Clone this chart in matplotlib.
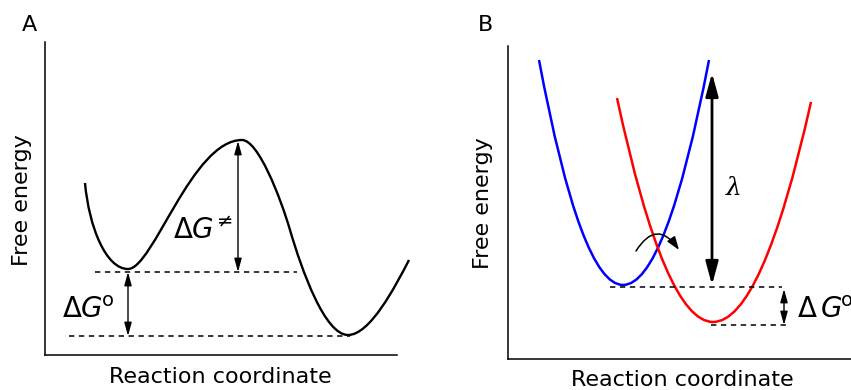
import numpy as np
import matplotlib.pyplot as plt
from matplotlib.path import Path
from matplotlib.patches import PathPatch

# --- panel A: double well (pixel units, y down)
# knots of the curve: start, first minimum, barrier top, inflection, second minimum, end
knots_a = [(85, 183), (128, 269), (242, 140), (290, 230), (348, 335), (409, 260)]
# two bezier handles for each piece between knots
handles_a = [[(89, 227), (106, 269)],
             [(153, 269), (192, 140)],
             [(258, 140), (280, 196)],
             [(302, 271), (325, 335)],
             [(370, 335), (395, 287)]]

# level lines A: (y, x start, x end)
levels_a = [(272, 95, 297), (336, 69, 350)]
# arrows A: (x, y top, y bottom)
arrow_dg0_a = (128, 272, 336)
arrow_dgts_a = (238, 141, 272)

# --- panel B: two parabolas (left end, vertex, right end)
blue_well = [(539, 60), (623, 285), (709, 60)]
red_well = [(617, 98), (713, 322), (811, 102)]

levels_b = [(287, 610, 782), (325, 711, 787)]
arrow_lambda = (712, 73, 285)
arrow_dg0_b = (784, 289, 325)
hop_arrow = [(636, 251), (679, 250)]


def setup(ax, x0, x1, y0, y1):
    ax.set_xlim(x0, x1)
    ax.set_ylim(y1, y0)
    ax.set_xticks([])
    ax.set_yticks([])
    ax.spines['top'].set_visible(False)
    ax.spines['right'].set_visible(False)
    ax.spines['left'].set_linewidth(1.1)
    ax.spines['bottom'].set_linewidth(1.1)


def curve_path(knots, handles):
    verts = [knots[0]]
    codes = [Path.MOVETO]
    for k, h in zip(knots[1:], handles):
        verts += [h[0], h[1], k]
        codes += [Path.CURVE4] * 3
    return Path(verts, codes)


def well_path(well):
    # each half of a parabola is a quadratic bezier with control point
    # at the mid x and the vertex height
    (xl, yl), (xv, yv), (xr, yr) = well
    verts = [(xl, yl), ((xl + xv) / 2, yv), (xv, yv), ((xv + xr) / 2, yv), (xr, yr)]
    codes = [Path.MOVETO, Path.CURVE3, Path.CURVE3, Path.CURVE3, Path.CURVE3]
    return Path(verts, codes)


def double_arrow(ax, a, lw, style):
    x, ya, yb = a
    ax.annotate('', xy=(x, ya), xytext=(x, yb),
                arrowprops=dict(arrowstyle=style, lw=lw, color='black',
                                shrinkA=0, shrinkB=0))


fig = plt.figure(figsize=(8.51, 3.9), dpi=100)

axA = fig.add_axes([45 / 851, 1 - 355 / 390, 352 / 851, 313 / 390])
setup(axA, 45, 397, 42, 355)
axA.add_patch(PathPatch(curve_path(knots_a, handles_a), fill=False,
                        edgecolor='black', lw=1.7, clip_on=False))
for y, xs, xe in levels_a:
    axA.plot([xs, xe], [y, y], color='black', lw=1.1, dashes=(3.5, 3))
small = '<|-|>,head_length=0.8,head_width=0.22'
double_arrow(axA, arrow_dg0_a, 1.0, small)
double_arrow(axA, arrow_dgts_a, 1.0, small)
axA.text(62, 318, r'$\Delta G^{\!\mathrm{o}}$', fontsize=20, ha='left', va='baseline')
axA.text(173, 239, r'$\Delta G^{\!\neq}$', fontsize=20, ha='left', va='baseline')

axB = fig.add_axes([508 / 851, 1 - 359 / 390, 1 - 508 / 851, 313 / 390])
setup(axB, 508, 851, 46, 359)
axB.add_patch(PathPatch(well_path(blue_well), fill=False, edgecolor='blue', lw=1.8))
axB.add_patch(PathPatch(well_path(red_well), fill=False, edgecolor='red', lw=1.8))
for y, xs, xe in levels_b:
    axB.plot([xs, xe], [y, y], color='black', lw=1.1, dashes=(3.5, 3))
double_arrow(axB, arrow_lambda, 2.0, '<|-|>,head_length=1.4,head_width=0.38')
double_arrow(axB, arrow_dg0_b, 1.0, small)
axB.annotate('', xy=hop_arrow[1], xytext=hop_arrow[0],
             arrowprops=dict(arrowstyle='-|>,head_length=0.8,head_width=0.28', lw=1.1,
                             color='black', shrinkA=0, shrinkB=0,
                             connectionstyle='arc3,rad=-0.75'))
axB.text(726, 195, 'λ', fontsize=18, family='DejaVu Serif', style='italic',
         ha='left', va='baseline')
axB.text(797, 318, r'$\Delta\,G^{\!\mathrm{o}}$', fontsize=20, ha='left', va='baseline')

# labels
fig.text(29 / 851, 1 - 25 / 390, 'A', fontsize=16, ha='center', va='center')
fig.text(486 / 851, 1 - 25 / 390, 'B', fontsize=16, ha='center', va='center')
fig.text(22 / 851, 1 - 200 / 390, 'Free energy', fontsize=16, rotation=90,
         ha='center', va='center')
fig.text(483 / 851, 1 - 203 / 390, 'Free energy', fontsize=16, rotation=90,
         ha='center', va='center')
fig.text(220 / 851, 1 - 383 / 390, 'Reaction coordinate', fontsize=16,
         ha='center', va='baseline')
fig.text(682 / 851, 1 - 386 / 390, 'Reaction coordinate', fontsize=16,
         ha='center', va='baseline')

fig.savefig('out.png', dpi=100)
